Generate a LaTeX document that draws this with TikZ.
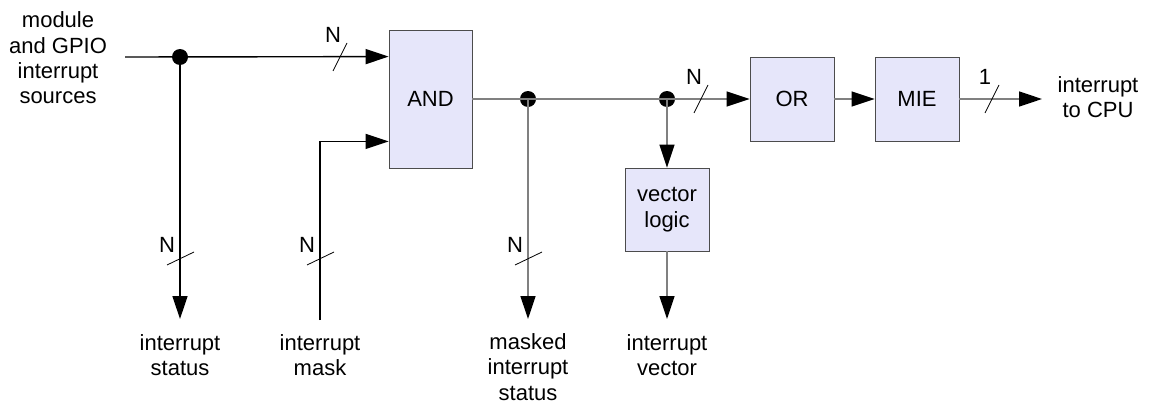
\documentclass[tikz,border=0pt]{standalone}
\usepackage{fontspec}
\setmainfont{Liberation Sans}
\usetikzlibrary{arrows.meta}
\tikzset {>={Triangle[length=11.5pt,width=7.5pt,color=black]}}
\newcommand\lblfont{\fontsize{11}{12.7}\selectfont}
\definecolor{blkfill}{RGB}{230,230,250}
\tikzset{
  blk/.style={draw=black!70,fill=blkfill,inner sep=0pt,align=center,font=\lblfont},
  lbl/.style={align=center,font=\lblfont},
  wire/.style={line width=.7pt},
  gwire/.style={line width=.7pt,draw=black!50},
  dot/.style={circle,fill,inner sep=0pt,minimum size=8pt},
  tick/.style={line width=.4pt}
}

\begin{document}
\begin{tikzpicture}[x=.5pt,y=-.5pt]
\useasboundingbox (0,0) rectangle (1149,407);
% blocks
\node[blk,minimum width=41.5pt,minimum height=69pt] (and) at (430.5,99) {AND};
\node[blk,minimum width=42pt,minimum height=42pt] (or) at (792,99) {OR};
\node[blk,minimum width=42pt,minimum height=42pt] (mie) at (917,99) {MIE};
\node[blk,minimum width=42pt,minimum height=41.5pt] (vec) at (667,209.5) {vector\\logic};
% labels
\node[lbl,anchor=east] (src) at (114,58) {module\\and GPIO\\interrupt\\sources};
\node[lbl] (cpu) at (1098,97) {interrupt\\to CPU};
\node[lbl] (st) at (180,355) {interrupt\\status};
\node[lbl] (mk) at (320,355) {interrupt\\mask};
\node[lbl] (ms) at (528,367) {masked\\interrupt\\status};
\node[lbl] (iv) at (667,355) {interrupt\\vector};
% junctions and wire ends
\node[dot] (d1) at (180,57) {};
\node[dot] (d2) at (528,99) {};
\node[dot] (d3) at (667,99) {};
\coordinate (in) at (125,57);
\coordinate (out) at (1042,99);
\coordinate (st tip) at (180,319);
\coordinate (mk end) at (320,320);
\coordinate (ms tip) at (528,319);
\coordinate (iv tip) at (667,319);
% wires
\draw[wire,->] (in) -- ([yshift=-13.5pt]and.north west);
\draw[wire,->] (d1.center) -- (st tip);
\draw[wire,->] (mk end) |- ([yshift=13.5pt]and.south west);
\draw[gwire,->] (and) -- (or);
\draw[gwire,->] (d2.center) -- (ms tip);
\draw[gwire,->] (d3.center) -- (vec);
\draw[gwire,->] (vec) -- (iv tip);
\draw[gwire,->] (or) -- (mie);
\draw[gwire,->] (mie) -- (out);
% bus widths
\foreach \x/\y/\n in {340/57/N,701/99/N,992/99/1} {
  \draw[tick] (\x-7,\y+14) -- (\x+7,\y-14);
  \node[lbl] at (\x-7,\y-22) {\n};
}
\foreach \x in {180,320,528} {
  \draw[tick] (\x-13,265) -- (\x+14,252);
  \node[lbl] at (\x-13,245) {N};
}
\end{tikzpicture}
\end{document}
